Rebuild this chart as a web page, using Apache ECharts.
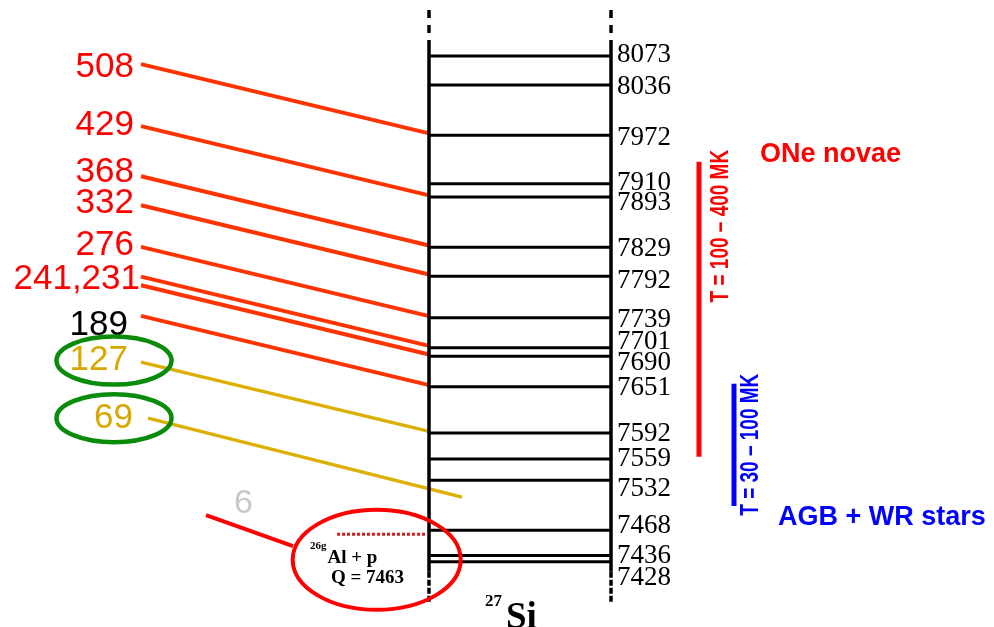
<!DOCTYPE html>
<html><head><meta charset="utf-8">
<script src="https://cdn.jsdelivr.net/npm/echarts@6/dist/echarts.min.js"></script>
<style>html,body{margin:0;padding:0;background:#fff}#c{width:994px;height:627px}</style>
</head><body><div id="c"></div>
<script>
// ---------------- DATA ----------------
const levelEnergies = [8073, 8036, 7972, 7910, 7893, 7829, 7792, 7739, 7701, 7690, 7651, 7592, 7559, 7532, 7468, 7436, 7428]; // keV, 27Si levels
const qValue = 7463;                     // 26gAl + p threshold (keV)
const resonanceLabels = ['508', '429', '368', '332', '276', '241,231', '', '189', '127', '69', '6'];
const resonanceLevels = [7972, 7893, 7829, 7792, 7739, 7701, 7690, 7651, 7592, 7532, 7468];
const resonanceClass  = ['nova', 'nova', 'nova', 'nova', 'nova', 'nova', 'nova', 'novaBlack', 'agb', 'agb', 'low'];
const rangeNames  = ['ONe novae', 'AGB + WR stars'];
const rangeTemps  = ['T = 100 \u2013 400 MK', 'T = 30 \u2013 100 MK'];
const rangeTop    = [7938, 7655];
const rangeBottom = [7562, 7499];
const nucleusMass = '27', nucleusName = 'Si';

// ---------------- LAYOUT / STYLE ----------------
const Y_MIN = 7344.7, Y_MAX = 8144.4;
const LX0 = 429, LX1 = 611;         // level scheme frame (x layout units)
const RANGE_X = [699, 734];
const LEVEL_LABEL_DY = [-1, 2, 3, -1, 6, 2, 5, 2, -6, 7, 1, 1, 0, 9, -4, 0, 16];
const RES_DEFAULT = {x0: 141, dy0: -71, x1: 428, dy1: -2, lx: 134, ldy: 0};
const RES_OVERRIDE = {
  0: {ldy: 3.5}, 1: {ldy: -0.5}, 2: {ldy: -3.5}, 3: {ldy: -1.5}, 4: {ldy: -1.5},
  5: {lx: 140, ldy: 2.5}, 7: {lx: 128, ldy: 9.5}, 8: {lx: 128, ldy: -1.5},
  9: {x0: 148, dy0: -62, x1: 462, dy1: 17, lx: 133, ldy: -62, lyAbs: true},
  10: {x0: 206, dy0: -15.3, x1: 293, dy1: 15.7, lx: 253, ldy: -27, lyAbs: true}
};
const RES_STYLE = {
  nova:      {line: '#ff3300', label: '#ff0000', w: 4},
  novaBlack: {line: '#ff3300', label: '#000000', w: 4},
  agb:       {line: '#dcb000', label: '#d8a800', w: 3.5},
  low:       {line: '#ff0000', label: '#c8c8c8', w: 4}
};
const RANGE_STYLE = [
  {color: '#ff0000', tdx: 22, tdy: -12, titleDx: 61, titleY: 'top', titleDy: -7},
  {color: '#0000ff', tdx: 17.5, tdy: -10, titleDx: 44, titleY: 'bottom', titleDy: 12}
];

function seg(x1, y1, x2, y2, stroke, lineWidth, dash) {
  return {type: 'line', silent: true, shape: {x1, y1, x2, y2},
          style: {stroke, lineWidth, lineDash: dash || null, lineCap: 'butt'}};
}
function txt(text, x, y, font, fill, align, extra) {
  return Object.assign({type: 'text', silent: true,
    style: {text, x, y, font, fill, align: align || 'left', verticalAlign: 'middle'}}, extra || {});
}

const chart = echarts.init(document.getElementById('c'));
chart.setOption({
  animation: false,
  backgroundColor: '#fff',
  grid: {left: 0, right: 0, top: 0, bottom: 0},
  xAxis: {type: 'value', min: 0, max: 994, show: false},
  yAxis: {type: 'value', min: Y_MIN, max: Y_MAX, show: false},
  series: [
    // resonance lines + labels
    {
      type: 'custom', coordinateSystem: 'cartesian2d', z: 2,
      data: resonanceLevels.map((e, i) => [LX0, e, i]),
      renderItem(params, api) {
        const i = params.dataIndex;
        const e = api.value(1);
        const L = Object.assign({}, RES_DEFAULT, RES_OVERRIDE[i] || {});
        const st = RES_STYLE[resonanceClass[i]];
        const p = api.coord([LX0, e]);
        const x0 = api.coord([L.x0, e])[0], x1 = api.coord([L.x1, e])[0];
        const y0 = p[1] + L.dy0, y1 = p[1] + L.dy1;
        const ch = [seg(x0, y0, x1, y1, st.line, st.w)];
        if (resonanceLabels[i]) {
          const ly = L.lyAbs ? p[1] + L.ldy : y0 + L.ldy;
          const lx = api.coord([L.lx, e])[0];
          const size = resonanceClass[i] === 'low' ? 34 : 35;
          ch.push(txt(resonanceLabels[i], lx, ly, size + 'px "Liberation Sans", Arial', st.label, 'right'));
          if (resonanceClass[i] === 'agb') {
            ch.push({type: 'ellipse', silent: true, shape: {cx: lx - (L.lx - 114), cy: ly, rx: 57.5, ry: 24},
                     style: {fill: null, stroke: '#0a8c0a', lineWidth: 4.5}});
          }
        }
        return {type: 'group', children: ch};
      }
    },
    // level scheme frame
    {
      type: 'custom', coordinateSystem: 'cartesian2d', z: 3,
      data: [[LX0, 0], [LX1, 1]],
      renderItem(params, api) {
        const x = api.coord([api.value(0), levelEnergies[0]])[0];
        const yTop = api.coord([0, levelEnergies[0]])[1];
        const yBot = api.coord([0, levelEnergies[levelEnergies.length - 1]])[1];
        const ch = [
          seg(x, yTop - 16, x, yBot + 10, '#000', 3.5),
          seg(x, yTop - 46, x, yTop - 22, '#000', 3.5, [8, 7]),
          seg(x, yBot + 10, x, yBot + 40, '#000', 3.5, [6, 2])
        ];
        if (params.dataIndex === 0) {
          ch.push(txt(nucleusMass, x + 56, yBot + 40, 'bold 17px "Liberation Serif", serif', '#000', 'left'));
          ch.push(txt(nucleusName, x + 77, yBot + 57, 'bold 37px "Liberation Serif", serif', '#000', 'left'));
        }
        return {type: 'group', children: ch};
      }
    },
    // levels + energy labels
    {
      type: 'custom', coordinateSystem: 'cartesian2d', z: 4,
      data: levelEnergies.map(e => [LX0, e]),
      renderItem(params, api) {
        const i = params.dataIndex, e = api.value(1);
        const a = api.coord([LX0, e]), b = api.coord([LX1, e]);
        return {type: 'group', children: [
          seg(a[0], a[1], b[0], b[1], '#000', 3),
          txt(String(e), b[0] + 6, b[1] + LEVEL_LABEL_DY[i], '27px "Liberation Serif", serif', '#000', 'left')
        ]};
      }
    },
    // Q-value annotation
    {
      type: 'custom', coordinateSystem: 'cartesian2d', z: 5,
      data: [[LX0, qValue]],
      renderItem(params, api) {
        const p = api.coord([LX0, api.value(1)]);
        return {type: 'group', children: [
          seg(p[0] - 92, p[1], p[0] - 1, p[1], '#d81c1c', 3, [3, 2]),
          {type: 'ellipse', silent: true, shape: {cx: p[0] - 52.3, cy: p[1] + 25.5, rx: 84, ry: 50},
           style: {fill: null, stroke: '#ff0000', lineWidth: 4}},
          txt('26g', p[0] - 119, p[1] + 12, 'bold 11px "Liberation Serif", serif', '#000', 'left'),
          txt('Al + p', p[0] - 101.5, p[1] + 23.5, 'bold 19px "Liberation Serif", serif', '#000', 'left'),
          txt('Q = ' + api.value(1), p[0] - 98, p[1] + 44, 'bold 19px "Liberation Serif", serif', '#000', 'left')
        ]};
      }
    },
    // temperature / Gamow ranges
    {
      type: 'custom', coordinateSystem: 'cartesian2d', z: 5,
      data: rangeTop.map((t, i) => [RANGE_X[i], t, rangeBottom[i]]),
      encode: {x: 0, y: [1, 2]},
      renderItem(params, api) {
        const i = params.dataIndex;
        const s = RANGE_STYLE[i];
        const a = api.coord([api.value(0), api.value(1)]);
        const b = api.coord([api.value(0), api.value(2)]);
        const titleY = s.titleY === 'top' ? a[1] + s.titleDy : b[1] + s.titleDy;
        return {type: 'group', children: [
          seg(a[0], a[1], b[0], b[1], s.color, 5),
          {type: 'text', silent: true, x: a[0] + s.tdx, y: a[1] + s.tdy, rotation: Math.PI / 2, scaleX: 0.76,
           style: {text: rangeTemps[i], x: 0, y: 0, align: 'right', verticalAlign: 'middle',
                   font: 'bold 25px "Liberation Sans", Arial', fill: s.color}},
          txt(rangeNames[i], a[0] + s.titleDx, titleY, 'bold 27px "Liberation Sans", Arial', s.color, 'left')
        ]};
      }
    }
  ]
});
</script>
</body></html>
